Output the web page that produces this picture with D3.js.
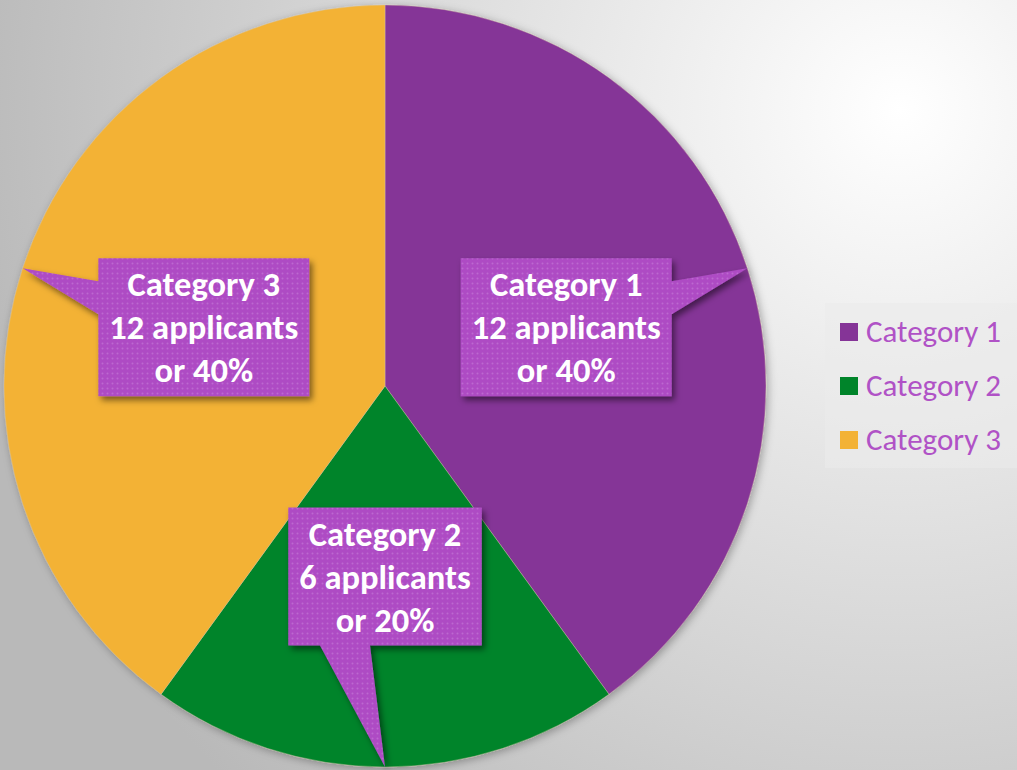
<!DOCTYPE html>
<html>
<head>
<meta charset="utf-8">
<script src="https://cdn.jsdelivr.net/npm/d3@7"></script>
<style>
  html, body { margin: 0; padding: 0; overflow: hidden; }
  svg { display: block; }
</style>
</head>
<body>
<svg id="chart" width="1017" height="770"></svg>
<script>
// ---- data ----
const categories = ["Category 1", "Category 2", "Category 3"];
const applicants = [12, 6, 12];
const percentLabels = ["40%", "20%", "40%"];
const sliceColors = ["#853497", "#00842A", "#F3B235"];

const W = 1017, H = 770;
const svg = d3.select("#chart");
const defs = svg.append("defs");

// background gradient
const bg = defs.append("radialGradient").attr("id", "bgGrad")
  .attr("gradientUnits", "userSpaceOnUse")
  .attr("cx", 900).attr("cy", 110).attr("r", 950);
bg.append("stop").attr("offset", "0%").attr("stop-color", "#ffffff");
bg.append("stop").attr("offset", "100%").attr("stop-color", "#b9b9b9");
svg.append("rect").attr("width", W).attr("height", H).attr("fill", "url(#bgGrad)");

// shadows
const pieShadow = defs.append("filter").attr("id", "pieShadow")
  .attr("x", "-10%").attr("y", "-10%").attr("width", "120%").attr("height", "120%");
pieShadow.append("feDropShadow").attr("dx", 2).attr("dy", 2).attr("stdDeviation", 4)
  .attr("flood-color", "#000").attr("flood-opacity", 0.3);
const boxShadow = defs.append("filter").attr("id", "boxShadow")
  .attr("x", "-20%").attr("y", "-20%").attr("width", "140%").attr("height", "140%");
boxShadow.append("feDropShadow").attr("dx", 3).attr("dy", 4).attr("stdDeviation", 3)
  .attr("flood-color", "#000").attr("flood-opacity", 0.5);

// dotted fill pattern for callouts
const pat = defs.append("pattern").attr("id", "dots")
  .attr("patternUnits", "userSpaceOnUse").attr("width", 5).attr("height", 5);
pat.append("rect").attr("width", 5).attr("height", 5).attr("fill", "#AE4CC4");
pat.append("circle").attr("cx", 2.5).attr("cy", 2.5).attr("r", 1).attr("fill", "#BD68D0");

// ---- pie ----
const cx = 385, cy = 386, R = 381;
const pie = d3.pie().sort(null).value(d => d);
const arcs = pie(applicants);
const arc = d3.arc().innerRadius(0).outerRadius(R);

const g = svg.append("g").attr("transform", `translate(${cx},${cy})`);
g.append("g").attr("filter", "url(#pieShadow)")
  .selectAll("path").data(arcs).join("path")
  .attr("d", arc)
  .attr("fill", (d, i) => sliceColors[i])
  .attr("stroke", "#d8c8a8").attr("stroke-width", 0.4);

// ---- callouts ----
const lineH = 43;
const boxH = 138;
const pad = 11;
const labelG = g.append("g");
arcs.forEach((d, i) => {
  const mid = (d.startAngle + d.endAngle) / 2;
  const [bx, by] = arc.centroid(d);            // box centre (half radius)
  const tip = [R * Math.sin(mid), -R * Math.cos(mid)]; // callout tip on the rim
  const lines = [categories[i], `${applicants[i]} applicants`, `or ${percentLabels[i]}`];

  const grp = labelG.append("g");
  const shape = grp.append("path").attr("fill", "url(#dots)").attr("filter", "url(#boxShadow)");
  const txt = grp.append("text")
    .attr("text-anchor", "middle")
    .attr("font-family", "Carlito, Lato, 'Open Sans', sans-serif")
    .attr("font-weight", "bold")
    .attr("font-size", 34.5)
    .attr("fill", "#ffffff");
  lines.forEach((l, k) => {
    txt.append("tspan").attr("x", bx).attr("y", by + (k - 1) * lineH + 12).text(l);
  });
  const tw = txt.node().getBBox().width;
  const bw = tw + 2 * pad;
  const x0 = bx - bw / 2, x1 = bx + bw / 2, y0 = by - boxH / 2, y1 = by + boxH / 2;
  let p;
  if (Math.abs(tip[0] - bx) > Math.abs(tip[1] - by)) {
    if (tip[0] > bx) {
      p = `M${x0},${y0}H${x1}V${y0 + 23}L${tip[0]},${tip[1]}L${x1},${y0 + 56}V${y1}H${x0}Z`;
    } else {
      p = `M${x0},${y0}H${x1}V${y1}H${x0}V${y0 + 56}L${tip[0]},${tip[1]}L${x0},${y0 + 23}Z`;
    }
  } else {
    p = `M${x0},${y0}H${x1}V${y1}H${bx - 15}L${tip[0]},${tip[1]}L${bx - 65},${y1}H${x0}Z`;
  }
  shape.attr("d", p);
});

// ---- legend ----
const leg = svg.append("g");
leg.append("rect").attr("x", 825).attr("y", 303).attr("width", 192).attr("height", 165)
  .attr("fill", "#ebebeb").attr("opacity", 0.6);
const legY = d3.scalePoint().domain(categories).range([332, 440]);
categories.forEach((c, i) => {
  leg.append("rect").attr("x", 840).attr("y", legY(c) - 9).attr("width", 18).attr("height", 18)
    .attr("fill", sliceColors[i]);
  leg.append("text").attr("x", 866).attr("y", legY(c) + 10)
    .attr("font-family", "Carlito, Lato, 'Open Sans', sans-serif")
    .attr("font-size", 31).attr("fill", "#B052C6").text(c);
});
</script>
</body>
</html>
